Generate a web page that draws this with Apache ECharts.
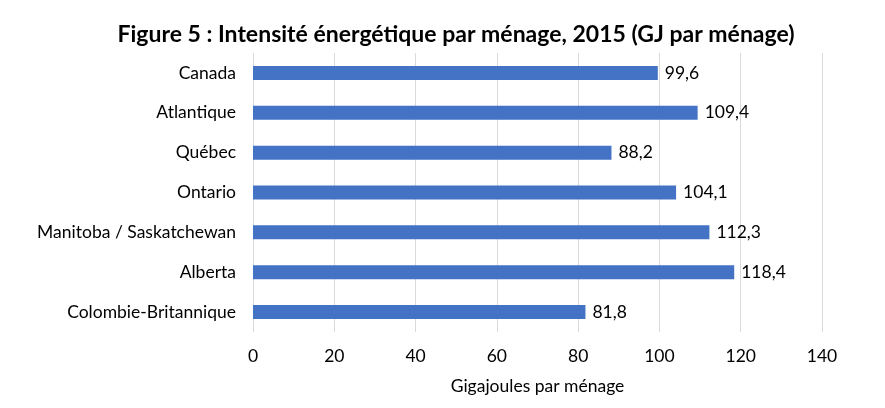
<!DOCTYPE html>
<html><head><meta charset="utf-8">
<script src="https://cdn.jsdelivr.net/npm/echarts@6/dist/echarts.min.js"></script>
<style>html,body{margin:0;padding:0;background:#fff}#c{width:885px;height:408px}</style>
</head><body><div id="c"></div>
<script>
const categories = ["Canada","Atlantique","Québec","Ontario","Manitoba / Saskatchewan","Alberta","Colombie-Britannique"];
const values = [99.6,109.4,88.2,104.1,112.3,118.4,81.8];
const xTicks = {min:0,max:140,interval:20};
const titleText = "Figure 5 : Intensité énergétique par ménage, 2015 (GJ par ménage)";
const xAxisTitle = "Gigajoules par ménage";
const font = "Lato, 'Liberation Sans', Arial, sans-serif";
const chart = echarts.init(document.getElementById('c'));
chart.setOption({
  animation:false,
  title:{text:titleText,left:451,top:18,textAlign:'center',textStyle:{fontFamily:font,fontSize:23,fontWeight:'bold',color:'#000'}},
  grid:{left:253,right:63,top:53,bottom:76},
  xAxis:{type:'value',min:xTicks.min,max:xTicks.max,interval:xTicks.interval,
    name:xAxisTitle,nameLocation:'middle',nameGap:45,
    nameTextStyle:{fontFamily:font,fontSize:17.5,color:'#000'},
    axisLine:{show:false},axisTick:{show:false},
    axisLabel:{fontFamily:font,fontSize:17.5,color:'#000',margin:15},
    splitLine:{show:true,lineStyle:{color:'#d9d9d9',width:1}}},
  yAxis:{type:'category',data:categories,inverse:true,
    axisLine:{show:false},axisTick:{show:false},
    axisLabel:{fontFamily:font,fontSize:17.5,color:'#000',margin:17}},
  series:[{type:'bar',data:values,barWidth:14,itemStyle:{color:'#4472c4'},
    label:{show:true,position:'right',distance:7,fontFamily:font,fontSize:17.5,color:'#000',
      formatter:p=>p.value.toFixed(1).replace('.',',')}}]
});
</script></body></html>
